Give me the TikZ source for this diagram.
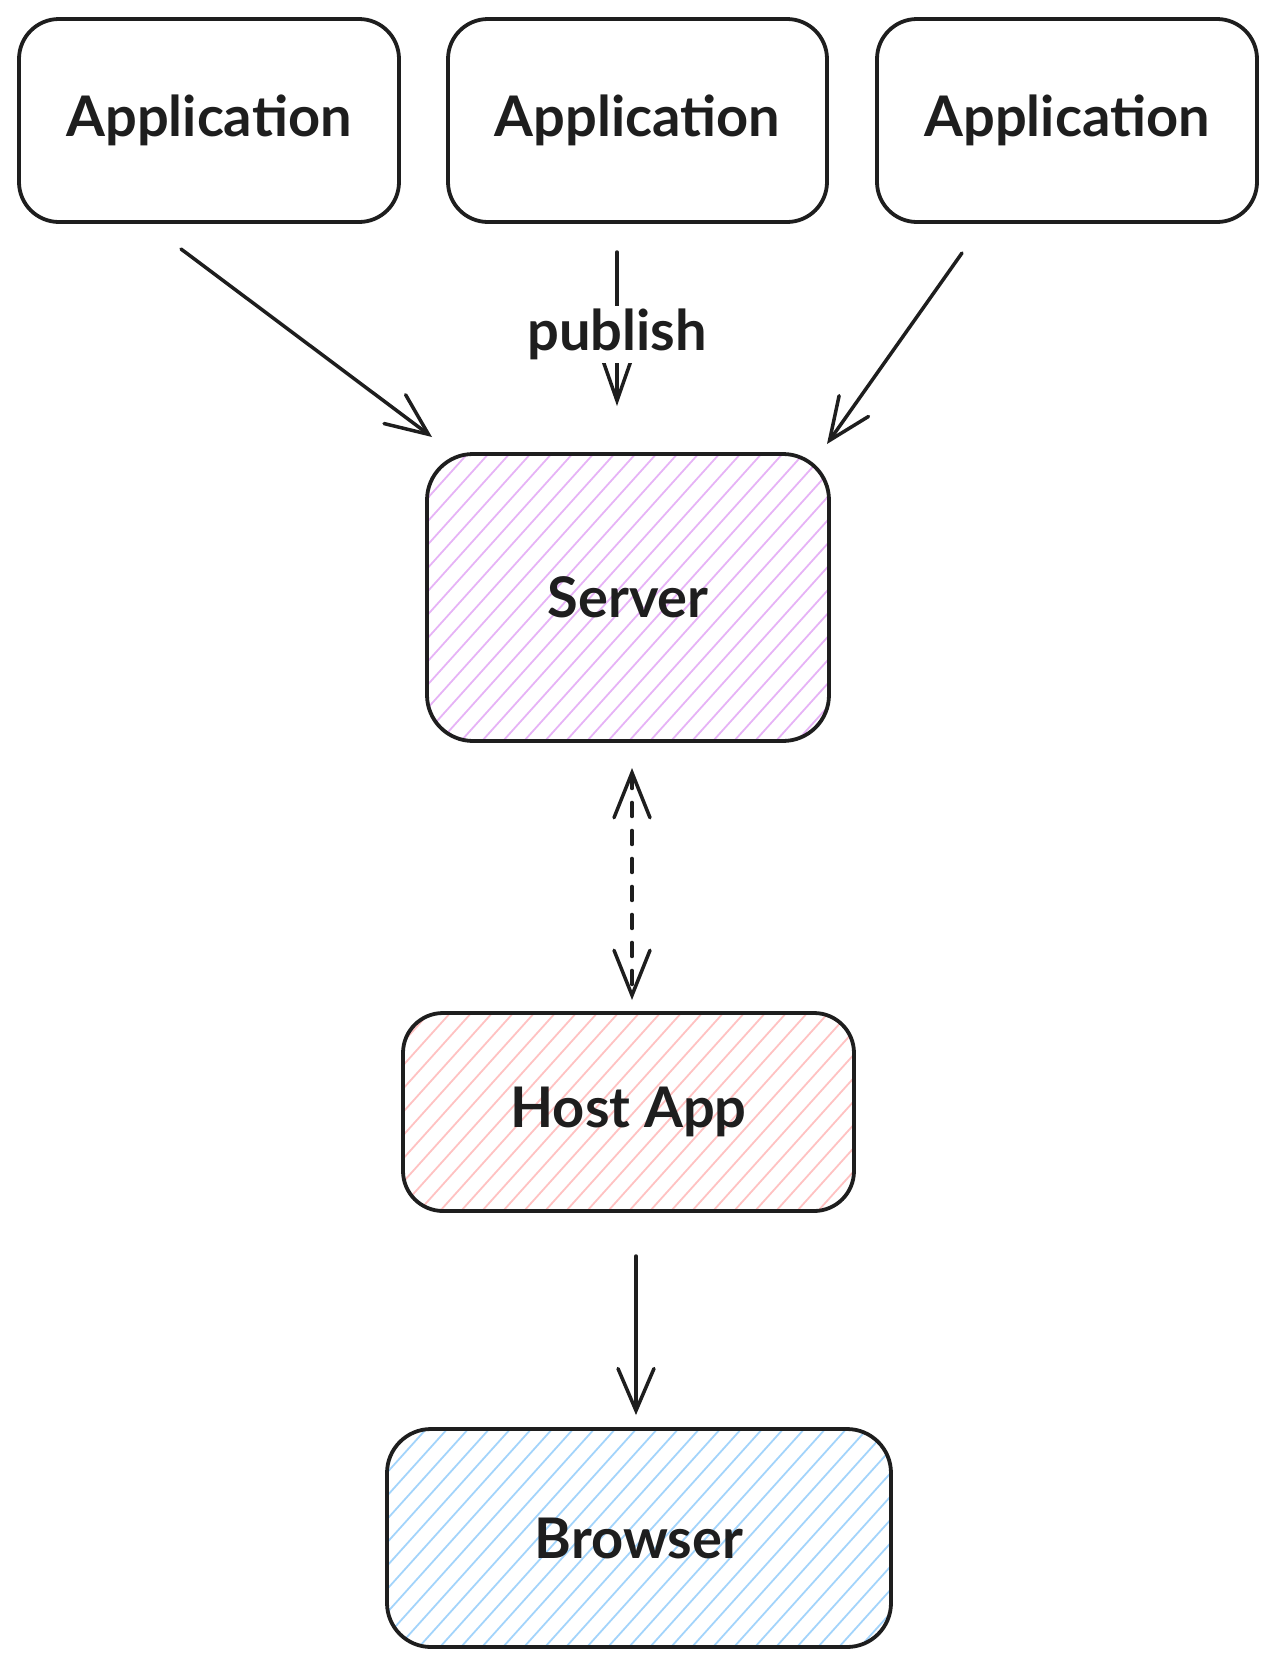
\documentclass[tikz,border=0pt]{standalone}
\usepackage{fontspec}
\setmainfont{Lato}
\usetikzlibrary{arrows.meta,calc}
\pgfdeclarelayer{background}
\pgfsetlayers{background,main}
\definecolor{ink}{HTML}{1E1E1E}
\definecolor{hpurple}{HTML}{E6B3F6}
\definecolor{hred}{HTML}{FFC2C2}
\definecolor{hblue}{HTML}{A3D4FB}
\tikzset{
  box/.style={draw=ink, line width=3.8pt, rounded corners=40pt, inner sep=0pt, outer sep=0pt,
    font=\fontsize{56}{62}\selectfont\bfseries, text=ink},
  conn/.style={draw=ink, line width=3.5pt, line cap=round,
    -{Straight Barb[length=42pt,width=36pt,line cap=round]}},
  dconn/.style={draw=ink, line width=3.5pt, line cap=round, dash pattern=on 14pt off 14pt,
    {Straight Barb[length=45pt,width=36pt,line cap=round]}-{Straight Barb[length=45pt,width=36pt,line cap=round]}},
  hatch/.style={line width=1.8pt}
}
\newcommand\hatchit[6]{% x1 y1 x2 y2 color radius
  \begin{pgfonlayer}{background}
  \begin{scope}
    \clip[rounded corners=#6] (#1,#2) rectangle (#3,#4);
    \foreach \i in {-400,-379,...,1700} {
      \draw[hatch,#5] (\i,#4) -- ++(0.9*#4-0.9*#2,#2-#4);
    }
  \end{scope}
  \end{pgfonlayer}
}
\begin{document}
\begin{tikzpicture}[x=1pt,y=-1pt]
\useasboundingbox (0,0) rectangle (1276,1668);

% top applications
\node[box, minimum width=380pt, minimum height=203pt] (app1) at (209,120.5) {Application};
\node[box, minimum width=379pt, minimum height=203pt] (app2) at (637.5,120.5) {Application};
\node[box, minimum width=380pt, minimum height=203pt] (app3) at (1067,120.5) {Application};

% server
\hatchit{427}{454}{829}{741}{hpurple}{46pt}
\node[box, rounded corners=46pt, minimum width=402pt, minimum height=287pt] (server) at (628,597.5) {Server};

% host app
\hatchit{403}{1013}{854}{1211}{hred}{40pt}
\node[box, minimum width=451pt, minimum height=198pt] (host) at (628.5,1112) {Host App};

% browser
\hatchit{387}{1429}{891}{1647}{hblue}{44pt}
\node[box, rounded corners=44pt, minimum width=504pt, minimum height=218pt] (browser) at (639,1538) {Browser};

% connectors
\coordinate (a1s) at ($(app1.south)+(-28,27)$);
\coordinate (a1e) at ($(server.north west)+(5,-17)$);
\draw[conn] (a1s) -- (a1e);

\coordinate (a2s) at ($(app2.south)+(-20.5,30)$);
\coordinate (a2e) at ($(server.north)+(-11,-48)$);
\draw[conn, -{Straight Barb[length=40pt,width=28pt,line cap=round]}] (a2s) -- (a2e)
  node[midway, fill=white, inner sep=3pt, text=ink, font=\fontsize{56}{62}\selectfont\bfseries, yshift=-5pt] (pub) {publish};

\coordinate (a3s) at ($(app3.south)+(-105,31)$);
\coordinate (a3e) at ($(server.north east)+(-2,-10)$);
\draw[conn] (a3s) -- (a3e);

\coordinate (ss) at ($(server.south)+(4,27)$);
\coordinate (hs) at ($(host.north)+(3.5,-13)$);
\draw[dconn] (ss) -- (hs);

\coordinate (hb1) at ($(host.south)+(7.5,45)$);
\coordinate (hb2) at ($(browser.north)+(-3,-14)$);
\draw[conn] (hb1) -- (hb2);
\end{tikzpicture}
\end{document}
